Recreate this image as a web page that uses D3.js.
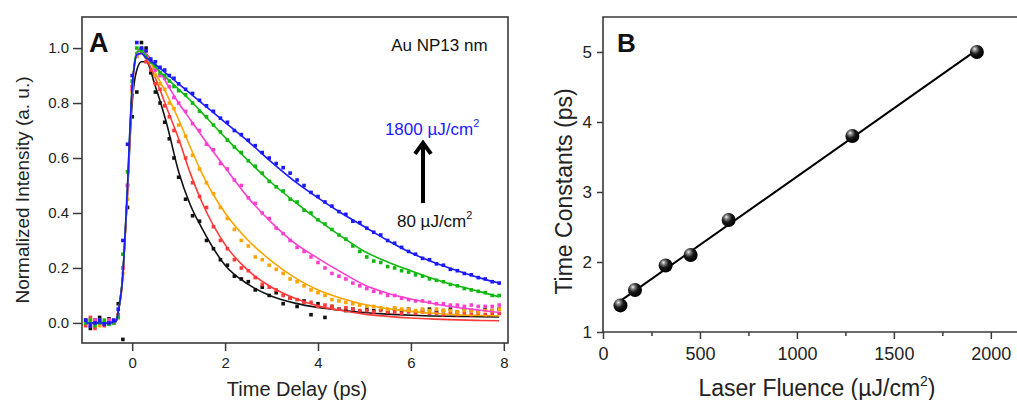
<!DOCTYPE html>
<html>
<head>
<meta charset="utf-8">
<script src="https://cdn.jsdelivr.net/npm/d3@7"></script>
<style>
  body { margin: 0; background: #fff; }
  svg  { display: block; font-family: Arial, "Liberation Sans", sans-serif; }
</style>
</head>
<body>
<svg id="chart" width="1017" height="400"></svg>
<script>
// ---------- Panel A data: measured points (time in ps, normalized intensity) ----------
const DOT_T = [
  -1.0,-0.9,-0.8,-0.7,-0.6,-0.5,-0.4,-0.3,-0.2,-0.1,
  0,0.1,0.2,0.3,0.4,0.5,0.6,0.7,0.8,0.9,1.0,
  1.15,1.3,1.45,1.6,1.75,1.9,2.05,2.2,2.35,2.5,
  2.65,2.8,2.95,3.1,3.25,3.4,3.55,3.7,3.85,4.0,
  4.15,4.3,4.45,4.6,4.75,4.9,5.05,5.2,5.35,5.5,
  5.65,5.8,5.95,6.1,6.25,6.4,6.55,6.7,6.85,7.0,
  7.15,7.3,7.45,7.6,7.75,7.9
];
const DOT_BLACK = [
  0.01,-0.02,0.01,0.02,0.00,0.015,0.00,0.07,-0.06,0.42,
  0.75,0.84,1.02,1.00,0.91,0.84,0.80,0.73,0.67,0.60,0.53,
  0.45,0.39,0.37,0.30,0.27,0.23,0.21,0.17,0.16,0.15,
  0.12,0.13,0.10,0.11,0.07,0.09,0.06,0.08,0.03,0.07,
  0.02,0.06,0.05,0.045,0.05,0.04,0.05,0.045,0.05,0.04,
  0.05,0.045,0.05,0.04,0.045,0.05,0.04,0.045,0.05,0.04,
  0.05,0.045,0.04,0.05,0.045,0.05
];
const DOT_RED = [
  -0.01,0.02,-0.02,0.01,-0.01,0.00,0.01,0.03,0.20,0.50,
  0.86,0.97,0.99,0.95,0.92,0.87,0.85,0.79,0.75,0.70,0.66,
  0.60,0.51,0.46,0.42,0.35,0.30,0.27,0.23,0.20,0.19,
  0.165,0.14,0.13,0.12,0.10,0.09,0.085,0.075,0.075,0.06,
  0.065,0.06,0.05,0.055,0.05,0.045,0.045,0.04,0.045,0.04,
  0.04,0.035,0.04,0.035,0.04,0.035,0.035,0.03,0.035,0.03,
  0.035,0.03,0.035,0.03,0.035,0.035
];
const DOT_ORANGE = [
  0.00,0.01,0.00,-0.01,0.00,0.01,0.00,0.02,0.18,0.45,
  0.84,0.97,1.00,0.99,0.95,0.90,0.87,0.85,0.80,0.78,0.72,
  0.68,0.61,0.56,0.51,0.47,0.42,0.38,0.34,0.30,0.28,
  0.24,0.23,0.21,0.195,0.18,0.16,0.15,0.135,0.12,0.11,
  0.10,0.085,0.08,0.075,0.07,0.065,0.06,0.06,0.055,0.05,
  0.055,0.05,0.05,0.045,0.05,0.045,0.05,0.045,0.045,0.04,
  0.045,0.045,0.04,0.045,0.045,0.05
];
const DOT_MAGENTA = [
  0.00,-0.01,0.01,0.00,-0.005,0.01,0.00,0.02,0.20,0.50,
  0.85,0.98,1.00,0.97,0.95,0.92,0.90,0.89,0.86,0.82,0.80,
  0.77,0.725,0.70,0.65,0.63,0.58,0.56,0.52,0.50,0.455,
  0.435,0.40,0.38,0.345,0.325,0.30,0.275,0.26,0.24,0.22,
  0.20,0.18,0.17,0.16,0.145,0.135,0.125,0.115,0.11,0.10,
  0.10,0.09,0.085,0.08,0.08,0.075,0.07,0.07,0.065,0.065,
  0.06,0.065,0.06,0.06,0.06,0.065
];
const DOT_GREEN = [
  0.00,0.01,-0.01,0.00,0.01,-0.005,0.00,0.02,0.25,0.55,
  0.88,1.00,0.99,0.97,0.95,0.935,0.91,0.90,0.88,0.86,0.845,
  0.83,0.80,0.77,0.75,0.72,0.695,0.665,0.64,0.62,0.59,
  0.57,0.545,0.515,0.495,0.48,0.45,0.44,0.41,0.40,0.375,
  0.36,0.34,0.32,0.305,0.28,0.26,0.24,0.225,0.22,0.205,
  0.20,0.19,0.185,0.175,0.17,0.16,0.155,0.15,0.14,0.135,
  0.125,0.12,0.115,0.11,0.10,0.10
];
const DOT_BLUE = [
  0.01,-0.01,0.00,0.01,-0.005,0.00,0.01,0.05,0.30,0.65,
  0.90,1.02,1.00,0.99,0.96,0.95,0.93,0.92,0.90,0.89,0.87,
  0.85,0.835,0.81,0.79,0.77,0.745,0.73,0.70,0.685,0.665,
  0.645,0.62,0.60,0.58,0.565,0.545,0.52,0.50,0.475,0.46,
  0.44,0.425,0.405,0.395,0.37,0.365,0.345,0.33,0.32,0.30,
  0.29,0.275,0.26,0.25,0.235,0.23,0.215,0.21,0.195,0.19,
  0.18,0.175,0.165,0.16,0.15,0.145
];

// ---------- Panel A data: fitted curves ----------
const FIT_T = [
  -1,-0.5,-0.35,-0.3,-0.2,-0.15,-0.1,-0.05,0,0.05,
  0.1,0.2,0.3,0.5,0.75,1,1.25,1.5,2,2.5,
  3,3.5,4,4.5,5,5.5,6,6.5,7,7.5,7.9
];
const FIT_BLACK = [
  0,0,0.01,0.05,0.18,0.32,0.47,0.65,0.8,0.88,
  0.92,0.95,0.95,0.86,0.72,0.55,0.43,0.345,0.21,0.14,
  0.097,0.072,0.056,0.046,0.038,0.032,0.028,0.025,0.024,0.023,0.022
];
const FIT_RED = [
  0,0,0.005,0.04,0.17,0.32,0.48,0.68,0.85,0.94,
  0.975,0.98,0.96,0.89,0.78,0.67,0.545,0.44,0.285,0.19,
  0.13,0.09,0.062,0.045,0.032,0.024,0.018,0.014,0.011,0.009,0.008
];
const FIT_ORANGE = [
  0,0,0.005,0.04,0.17,0.32,0.48,0.68,0.85,0.94,
  0.98,1.0,0.98,0.91,0.83,0.74,0.64,0.545,0.4,0.3,
  0.225,0.165,0.12,0.09,0.067,0.052,0.042,0.035,0.03,0.027,0.025
];
const FIT_MAGENTA = [
  0,0,0.005,0.04,0.17,0.32,0.48,0.68,0.85,0.94,
  0.98,1.0,0.98,0.94,0.87,0.8,0.74,0.68,0.565,0.455,
  0.365,0.29,0.235,0.185,0.138,0.108,0.087,0.07,0.056,0.046,0.038
];
const FIT_GREEN = [
  0,0,0.005,0.04,0.18,0.33,0.5,0.7,0.86,0.95,
  0.985,0.99,0.97,0.93,0.89,0.85,0.81,0.765,0.675,0.59,
  0.51,0.44,0.375,0.315,0.26,0.222,0.19,0.16,0.135,0.113,0.095
];
const FIT_BLUE = [
  0,0,0.005,0.04,0.18,0.33,0.5,0.7,0.86,0.94,
  0.975,0.98,0.965,0.94,0.905,0.87,0.835,0.8,0.73,0.66,
  0.585,0.515,0.455,0.4,0.35,0.3,0.255,0.22,0.19,0.163,0.145
];

const A_XTICKS = [0, 2, 4, 6, 8];
const A_YTICKS = [0, 0.2, 0.4, 0.6, 0.8, 1.0];

// ---------- Panel B data ----------
const FLUENCE = [90, 165, 323, 452, 648, 1286, 1928];   // µJ/cm2
const TAU     = [1.38, 1.6, 1.95, 2.1, 2.6, 3.8, 5.0];   // ps
const B_XTICKS = [0, 500, 1000, 1500, 2000];
const B_XMINOR = [250, 750, 1250, 1750];
const B_YTICKS = [1, 2, 3, 4, 5];

(function () {
  const svg = d3.select("#chart");
  const FRAME = "#3a3a3a";

  // series in drawing order (blue on top)
  const series = [
    { color: "#111111", dots: DOT_BLACK,   fit: FIT_BLACK },
    { color: "#ff3a3a", dots: DOT_RED,     fit: FIT_RED },
    { color: "#ffa500", dots: DOT_ORANGE,  fit: FIT_ORANGE },
    { color: "#ff3fd0", dots: DOT_MAGENTA, fit: FIT_MAGENTA },
    { color: "#10b810", dots: DOT_GREEN,   fit: FIT_GREEN },
    { color: "#1a1aff", dots: DOT_BLUE,    fit: FIT_BLUE }
  ];

  // ================= Panel A =================
  const A = { l: 82, r: 508, t: 17, b: 343 };
  const xA = d3.scaleLinear().domain([-1.08, 8.09]).range([A.l, A.r]);
  const yA = d3.scaleLinear().domain([-0.073, 1.113]).range([A.b, A.t]);

  svg.append("clipPath").attr("id", "clipA")
    .append("rect").attr("x", A.l).attr("y", A.t)
    .attr("width", A.r - A.l).attr("height", A.b - A.t);

  const plotA = svg.append("g").attr("clip-path", "url(#clipA)");
  const line = d3.line()
    .x(d => xA(d[0])).y(d => yA(d[1]))
    .curve(d3.curveMonotoneX);

  series.forEach(s => {
    const g = plotA.append("g");
    g.selectAll("rect")
      .data(DOT_T.map((t, i) => [t, s.dots[i]]))
      .join("rect")
      .attr("x", d => xA(d[0]) - 1.8)
      .attr("y", d => yA(d[1]) - 1.8)
      .attr("width", 3.6).attr("height", 3.6)
      .attr("fill", s.color);
    g.append("path")
      .datum(FIT_T.map((t, i) => [t, s.fit[i]]))
      .attr("d", line)
      .attr("fill", "none")
      .attr("stroke", s.color)
      .attr("stroke-width", 1.6);
  });

  // axes
  const axA_x = svg.append("g")
    .attr("transform", `translate(0,${A.b})`)
    .call(d3.axisBottom(xA).tickValues(A_XTICKS).tickSize(8).tickPadding(6).tickFormat(d3.format("d")));
  const axA_y = svg.append("g")
    .attr("transform", `translate(${A.l},0)`)
    .call(d3.axisLeft(yA).tickValues(A_YTICKS).tickSize(9).tickPadding(4).tickFormat(d3.format(".1f")));
  [axA_x, axA_y].forEach(ax => {
    ax.select(".domain").remove();
    ax.selectAll("line").attr("stroke", FRAME).attr("stroke-width", 1.5);
    ax.selectAll("text").attr("font-size", 15).attr("fill", "#222")
      .attr("font-family", "Arial, 'Liberation Sans', sans-serif");
  });

  svg.append("rect")
    .attr("x", A.l).attr("y", A.t)
    .attr("width", A.r - A.l).attr("height", A.b - A.t)
    .attr("fill", "none").attr("stroke", FRAME).attr("stroke-width", 1.6);

  svg.append("text")
    .attr("x", (A.l + A.r) / 2 + 2).attr("y", 396)
    .attr("text-anchor", "middle").attr("font-size", 20).attr("fill", "#222")
    .text("Time Delay (ps)");
  svg.append("text")
    .attr("transform", `translate(29,${(A.t + A.b) / 2 + 10}) rotate(-90)`)
    .attr("text-anchor", "middle").attr("font-size", 19).attr("fill", "#222")
    .text("Normalized Intensity (a. u.)");

  svg.append("text")
    .attr("x", A.l + 7).attr("y", A.t + 35)
    .attr("font-size", 27).attr("font-weight", "bold").attr("fill", "#111")
    .text("A");

  svg.append("text")
    .attr("x", xA(7.65)).attr("y", yA(0.99))
    .attr("text-anchor", "end").attr("font-size", 17).attr("fill", "#111")
    .text("Au NP13 nm");

  // fluence labels with superscript
  function fluenceLabel(x, y, num, color) {
    const t = svg.append("text")
      .attr("x", x).attr("y", y)
      .attr("font-size", 17).attr("fill", color);
    t.append("tspan").text(num + " \u00b5J/cm");
    t.append("tspan").attr("dy", -8).attr("font-size", 11).text("2");
  }
  fluenceLabel(xA(5.44), yA(0.684), "1800", "#1a1aff");
  fluenceLabel(xA(5.7), yA(0.35), "80", "#111");

  // arrow
  const ax = xA(6.26), yTop = yA(0.655), yBot = yA(0.436);
  svg.append("line")
    .attr("x1", ax).attr("x2", ax).attr("y1", yBot).attr("y2", yTop + 3)
    .attr("stroke", "#000").attr("stroke-width", 4);
  svg.append("path")
    .attr("d", `M${ax - 8},${yTop + 11} L${ax},${yTop} L${ax + 8},${yTop + 11}`)
    .attr("fill", "none").attr("stroke", "#000").attr("stroke-width", 4)
    .attr("stroke-linejoin", "miter");

  // ================= Panel B =================
  const B = { l: 603, r: 1017, t: 17, b: 332 };
  const xB = d3.scaleLinear().domain([0, 2135]).range([B.l, B.r]);
  const yB = d3.scaleLinear().domain([1, 5.5]).range([B.b, B.t]);

  const defs = svg.append("defs");
  const grad = defs.append("radialGradient").attr("id", "ball")
    .attr("cx", "38%").attr("cy", "34%").attr("r", "62%").attr("fx", "34%").attr("fy", "28%");
  grad.append("stop").attr("offset", "0").attr("stop-color", "#f4f4f4");
  grad.append("stop").attr("offset", "0.22").attr("stop-color", "#8a8a8a");
  grad.append("stop").attr("offset", "0.55").attr("stop-color", "#1a1a1a");
  grad.append("stop").attr("offset", "1").attr("stop-color", "#000");

  const axB_x = svg.append("g")
    .attr("transform", `translate(0,${B.b})`)
    .call(d3.axisBottom(xB).tickValues(B_XTICKS).tickSize(7).tickPadding(8).tickFormat(d3.format("d")));
  const axB_xm = svg.append("g")
    .attr("transform", `translate(0,${B.b})`)
    .call(d3.axisBottom(xB).tickValues(B_XMINOR).tickSize(4).tickFormat(""));
  const axB_y = svg.append("g")
    .attr("transform", `translate(${B.l},0)`)
    .call(d3.axisLeft(yB).tickValues(B_YTICKS).tickSize(6).tickPadding(5).tickFormat(d3.format("d")));
  [axB_x, axB_xm, axB_y].forEach(a => {
    a.select(".domain").remove();
    a.selectAll("line").attr("stroke", FRAME).attr("stroke-width", 1.5);
    a.selectAll("text").attr("fill", "#222")
      .attr("font-family", "Arial, 'Liberation Sans', sans-serif");
  });
  axB_x.selectAll("text").attr("font-size", 18);
  axB_y.selectAll("text").attr("font-size", 17);

  svg.append("path")
    .attr("d", `M${B.r + 2},${B.t} H${B.l} V${B.b} H${B.r + 2}`)
    .attr("fill", "none").attr("stroke", FRAME).attr("stroke-width", 1.6);

  // linear fit of tau vs fluence
  const mx = d3.mean(FLUENCE), my = d3.mean(TAU);
  const slope = d3.sum(FLUENCE, (f, i) => (f - mx) * (TAU[i] - my)) /
                d3.sum(FLUENCE, f => (f - mx) * (f - mx));
  const icpt = my - slope * mx;
  const fx = d3.extent(FLUENCE);
  svg.append("line")
    .attr("x1", xB(fx[0])).attr("y1", yB(icpt + slope * fx[0]))
    .attr("x2", xB(fx[1])).attr("y2", yB(icpt + slope * fx[1]))
    .attr("stroke", "#000").attr("stroke-width", 2);

  svg.append("g").selectAll("circle")
    .data(FLUENCE.map((f, i) => [f, TAU[i]]))
    .join("circle")
    .attr("cx", d => xB(d[0])).attr("cy", d => yB(d[1]))
    .attr("r", 7)
    .attr("fill", "url(#ball)");

  svg.append("text")
    .attr("x", B.l + 14).attr("y", B.t + 35)
    .attr("font-size", 26).attr("font-weight", "bold").attr("fill", "#111")
    .text("B");

  const xt = svg.append("text")
    .attr("x", 817).attr("y", 396)
    .attr("text-anchor", "middle").attr("font-size", 23).attr("fill", "#222");
  xt.append("tspan").text("Laser Fluence (\u00b5J/cm");
  xt.append("tspan").attr("dy", -10).attr("font-size", 14).text("2");
  xt.append("tspan").attr("dy", 10).text(")");

  svg.append("text")
    .attr("transform", `translate(572,${(B.t + B.b) / 2 + 17}) rotate(-90)`)
    .attr("text-anchor", "middle").attr("font-size", 23).attr("fill", "#222")
    .text("Time Constants (ps)");
})();
</script>
</body>
</html>
